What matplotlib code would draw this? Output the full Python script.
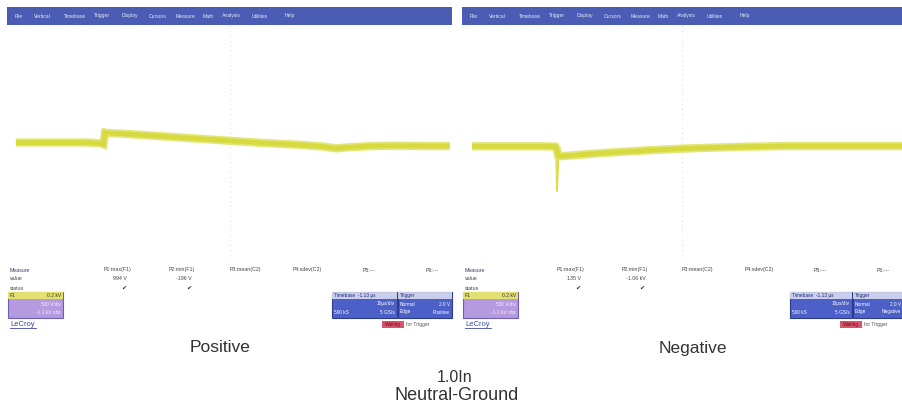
import numpy as np
from matplotlib import pyplot as plt
from matplotlib.patches import Rectangle

plt.rcParams['font.family'] = ['Liberation Sans', 'DejaVu Sans']

# waveform samples, time in divisions (0..10), voltage in divisions (-4..4)
pos_t = [0.2, 1.0, 1.8, 2.12, 2.17, 2.2, 2.3, 2.6, 3.0, 3.6, 4.2, 5.0, 5.8, 6.6, 7.1, 7.4, 7.7, 8.2, 8.8, 9.4, 9.95]
pos_v = [0.0, 0.0, 0.0, -0.03, -0.06, 0.33, 0.32, 0.30, 0.26, 0.20, 0.14, 0.06, -0.02, -0.08, -0.14, -0.2, -0.16, -0.12, -0.11, -0.12, -0.12]
pos_spike_t = [2.19, 2.19]
pos_spike_v = [0.0, 0.5]

neg_t = [0.23, 1.0, 1.9, 2.12, 2.15, 2.19, 2.5, 3.0, 3.6, 4.3, 5.0, 5.8, 6.6, 7.4, 8.2, 9.0, 10.0]
neg_v = [-0.13, -0.13, -0.13, -0.14, -0.2, -0.47, -0.44, -0.38, -0.32, -0.26, -0.21, -0.17, -0.14, -0.12, -0.12, -0.12, -0.12]
neg_spike_t = [2.14, 2.16, 2.19]
neg_spike_v = [-0.15, -1.65, -0.45]

menu_items = ['File', 'Vertical', 'Timebase', 'Trigger', 'Display', 'Cursors',
              'Measure', 'Math', 'Analysis', 'Utilities', 'Help']
params = ['P1:max(F1)', 'P2:min(F1)', 'P3:mean(C2)', 'P4:sdev(C2)', 'P5:---', 'P6:---']
pos_values = ['994 V', '-196 V']
neg_values = ['135 V', '-1.06 kV']

W, H = 902, 407
fig = plt.figure(figsize=(W / 100, H / 100), dpi=100)
bg = fig.add_axes([0, 0, 1, 1])
bg.set_xlim(0, W)
bg.set_ylim(H, 0)
bg.axis('off')

blue = '#4a5cb4'
trace = '#d6da3e'


def px_axes(x0, y0, x1, y1):
    return fig.add_axes([x0 / W, 1 - y1 / H, (x1 - x0) / W, (y1 - y0) / H])


def panel(x0, x1, t, v, st, sv, values, offs):
    # menu bar
    bg.add_patch(Rectangle((x0, 7), x1 - x0, 18, color=blue, lw=0))
    mx = x0 + 8
    for m in menu_items:
        bg.text(mx, 16, m, color='#e6e8f5', fontsize=3.6, va='center')
        mx += len(m) * 2.6 + 9
    # waveform area
    ax = px_axes(x0, 25, x1, 260)
    ax.set_xlim(0, 10)
    ax.set_ylim(-4, 4)
    ax.axis('off')
    ax.axvline(5, color='#d8d8d8', lw=0.7, ls=(0, (1, 4)))
    ax.plot(st, sv, color=trace, lw=1.4, alpha=0.9, solid_capstyle='butt')
    ax.plot(t, v, color='#e3e57a', lw=6, solid_capstyle='butt', solid_joinstyle='miter')
    ax.plot(t, v, color=trace, lw=3.5, solid_capstyle='butt', solid_joinstyle='miter')
    # measure table
    bg.text(x0 + 3, 270, 'Measure', fontsize=3.8, color='#333a66', va='center')
    bg.text(x0 + 3, 279, 'value', fontsize=3.8, color='#444', va='center')
    bg.text(x0 + 3, 288, 'status', fontsize=3.8, color='#444', va='center')
    cols = [x0 + offs * 110, x0 + offs * 175, x0 + offs * 238, x0 + offs * 300,
            x0 + offs * 362, x0 + offs * 425]
    for cx, p in zip(cols, params):
        bg.text(cx, 270, p, fontsize=3.8, color='#444', ha='center', va='center')
    for cx, val in zip(cols[:2], values):
        bg.text(cx + 10, 279, val, fontsize=3.8, color='#444', ha='right', va='center')
        bg.text(cx + 7, 288, '\u2714', fontsize=4.5, color='#222', ha='center', va='center',
                family='DejaVu Sans')
    # channel descriptor box
    bg.add_patch(Rectangle((x0 + 1, 292), 55, 26, facecolor='#b59ae0', edgecolor='#6b5fb8', lw=0.8))
    bg.add_patch(Rectangle((x0 + 1, 292), 55, 7, facecolor='#e2e070', edgecolor='none'))
    bg.text(x0 + 3, 295.5, 'F1', fontsize=3.6, color='#333', va='center')
    bg.text(x0 + 54, 295.5, '0.2 kV', fontsize=3.6, color='#333', va='center', ha='right')
    bg.text(x0 + 54, 304, '500 V/div', fontsize=3.4, color='#f4f0ff', va='center', ha='right')
    bg.text(x0 + 54, 312, '-1.1 kV ofst', fontsize=3.4, color='#f4f0ff', va='center', ha='right')
    bg.text(x0 + 3, 324, 'LeCroy', fontsize=5.5, color='#3a4aa0', va='center')
    bg.plot([x0 + 3, x0 + 29], [327.5, 327.5], color='#3a4aa0', lw=0.6)


panel(7, 452, pos_t, pos_v, pos_spike_t, pos_spike_v, pos_values, 1.0)
panel(462, 902, neg_t, neg_v, neg_spike_t, neg_spike_v, neg_values, 0.99)


def status_boxes(tx, width_t, width_g, red_x, red_w, red_txt):
    bg.add_patch(Rectangle((tx, 292), width_t, 26, facecolor='#4c60c8', edgecolor='#2e3c8e', lw=0.8))
    bg.add_patch(Rectangle((tx + width_t + 1, 292), width_g, 26, facecolor='#4c60c8',
                           edgecolor='#2e3c8e', lw=0.8))
    bg.add_patch(Rectangle((tx, 292), width_t, 7, facecolor='#dfe2f2', edgecolor='none', alpha=0.85))
    bg.add_patch(Rectangle((tx + width_t + 1, 292), width_g, 7, facecolor='#dfe2f2',
                           edgecolor='none', alpha=0.85))
    bg.text(tx + 2, 295.5, 'Timebase  -1.13 \u00b5s', fontsize=3.4, color='#1e2b77', va='center')
    bg.text(tx + width_t - 2, 304, '10\u00b5s/div', fontsize=3.4, color='white', va='center', ha='right')
    bg.text(tx + 2, 312, '500 kS', fontsize=3.4, color='white', va='center')
    bg.text(tx + width_t - 2, 312, '5 GS/s', fontsize=3.4, color='white', va='center', ha='right')
    gx = tx + width_t + 3
    bg.text(gx, 295.5, 'Trigger', fontsize=3.4, color='#1e2b77', va='center')
    bg.text(gx, 304, 'Normal', fontsize=3.4, color='white', va='center')
    bg.text(gx + width_g - 4, 304, '2.0 V', fontsize=3.4, color='white', va='center', ha='right')
    bg.text(gx, 312, 'Edge', fontsize=3.4, color='white', va='center')
    bg.text(gx + width_g - 4, 312, red_txt, fontsize=3.4, color='white', va='center', ha='right')
    bg.add_patch(Rectangle((red_x, 321), red_w, 7, facecolor='#d9536a', edgecolor='none'))
    bg.text(red_x + red_w / 2, 324.5, 'Waiting', fontsize=3.4, color='#6a1020', ha='center', va='center')
    bg.text(red_x + red_w + 2, 324.5, 'for Trigger', fontsize=3.6, color='#555', va='center')


status_boxes(332, 65, 54, 382, 22, 'Positive')
status_boxes(790, 62, 50, 840, 22, 'Negative')

bg.text(220, 347, 'Positive', fontsize=12.5, color='#333', ha='center', va='center')
bg.text(693, 348, 'Negative', fontsize=12.5, color='#333', ha='center', va='center')
bg.text(455, 378, '1.0In', fontsize=11.5, color='#333', ha='center', va='center')
bg.text(457, 395, 'Neutral-Ground', fontsize=13, color='#333', ha='center', va='center')

fig.savefig('out.png', dpi=100)
